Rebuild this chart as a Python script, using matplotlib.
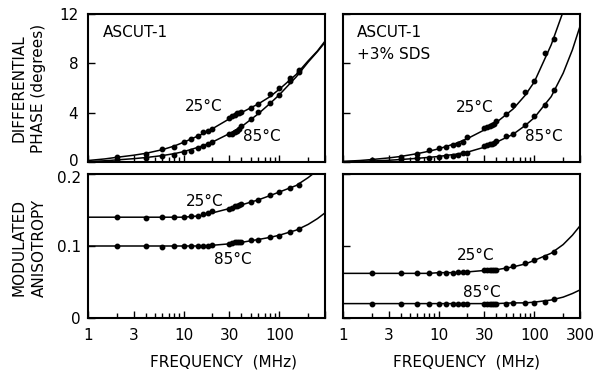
import numpy as np
import matplotlib
matplotlib.use("Agg")
import matplotlib.pyplot as plt
import matplotlib.transforms as mtransforms
from matplotlib.ticker import FixedLocator, NullFormatter, FixedFormatter

# measured frequencies (MHz)
freq = [2, 4, 6, 8, 10, 12, 14, 16, 18, 20, 30, 32, 34, 36, 38, 40, 50, 60, 80, 100, 130, 160]

# differential phase (degrees), ASCUT-1
ph_a25 = [0.38, 0.65, 1.03, 1.2, 1.65, 1.85, 2.1, 2.45, 2.55, 2.7, 3.6, 3.7, 3.85, 3.95, 4.0, 4.05,
          4.35, 4.7, 5.5, 6.0, 6.8, 7.45]
ph_a85 = [0.2, 0.35, 0.45, 0.57, 0.78, 0.92, 1.1, 1.3, 1.45, 1.6, 2.25, 2.3, 2.4, 2.5, 2.7, 2.9,
          3.45, 4.05, 4.75, 5.45, 6.6, 7.3]
# differential phase, ASCUT-1 + 3% SDS
ph_s25 = [0.16, 0.43, 0.62, 0.98, 1.17, 1.2, 1.35, 1.45, 1.65, 2.0, 2.74, 2.8, 2.9, 3.0, 3.1, 3.3,
          3.9, 4.6, 5.7, 6.6, 8.8, 10.0]
ph_s85 = [0.08, 0.22, 0.3, 0.35, 0.43, 0.45, 0.5, 0.57, 0.7, 0.76, 1.3, 1.35, 1.45, 1.5, 1.57, 1.7,
          2.1, 2.3, 3.0, 3.7, 4.6, 5.8]
# modulated anisotropy
ma_a25 = [0.14, 0.139, 0.14, 0.14, 0.14, 0.141, 0.142, 0.144, 0.146, 0.148, 0.152, 0.153, 0.155,
          0.156, 0.157, 0.158, 0.161, 0.164, 0.171, 0.175, 0.18, 0.185]
ma_a85 = [0.1, 0.1, 0.099, 0.1, 0.1, 0.1, 0.1, 0.1, 0.1, 0.101, 0.103, 0.104, 0.105, 0.105, 0.106,
          0.106, 0.108, 0.109, 0.112, 0.114, 0.119, 0.124]
ma_s25 = [0.062, 0.062, 0.062, 0.062, 0.063, 0.063, 0.063, 0.064, 0.064, 0.064, 0.066, 0.066, 0.066,
          0.066, 0.067, 0.067, 0.07, 0.072, 0.076, 0.08, 0.085, 0.092]
ma_s85 = [0.02, 0.02, 0.02, 0.02, 0.02, 0.02, 0.02, 0.02, 0.02, 0.02, 0.02, 0.02, 0.02, 0.02, 0.02,
          0.02, 0.02, 0.021, 0.021, 0.021, 0.022, 0.026]

# fitted curves
fc = [1, 1.5, 2, 3, 4, 6, 8, 10, 15, 20, 30, 40, 60, 80, 100, 150, 200, 250, 300]
fit_a25 = [0.12, 0.25, 0.38, 0.55, 0.7, 1.0, 1.3, 1.6, 2.2, 2.7, 3.5, 4.0, 4.7, 5.3, 5.9, 7.1, 8.2, 9.0, 9.8]
fit_a85 = [0.03, 0.1, 0.17, 0.27, 0.36, 0.52, 0.68, 0.84, 1.25, 1.62, 2.3, 2.85, 3.9, 4.75, 5.45, 6.9, 8.1, 8.95, 9.7]
fit_s25 = [0.05, 0.12, 0.2, 0.33, 0.45, 0.68, 0.88, 1.07, 1.5, 1.9, 2.6, 3.2, 4.3, 5.4, 6.5, 9.5, 12.2, 15.0, 18.0]
fit_s85 = [0.02, 0.05, 0.08, 0.14, 0.2, 0.3, 0.38, 0.45, 0.63, 0.8, 1.2, 1.6, 2.25, 2.95, 3.6, 5.3, 7.2, 9.1, 11.0]
fit_m_a25 = [0.14, 0.14, 0.14, 0.14, 0.14, 0.14, 0.14, 0.14, 0.142, 0.146, 0.152, 0.157, 0.164, 0.17,
             0.175, 0.184, 0.195, 0.205, 0.215]
fit_m_a85 = [0.1, 0.1, 0.1, 0.1, 0.1, 0.1, 0.1, 0.1, 0.1, 0.101, 0.103, 0.105, 0.109, 0.112, 0.115,
             0.122, 0.13, 0.138, 0.146]
fit_m_s25 = [0.062, 0.062, 0.062, 0.062, 0.062, 0.062, 0.062, 0.063, 0.063, 0.064, 0.066, 0.067,
             0.071, 0.075, 0.08, 0.09, 0.102, 0.115, 0.128]
fit_m_s85 = [0.02, 0.02, 0.02, 0.02, 0.02, 0.02, 0.02, 0.02, 0.02, 0.02, 0.02, 0.02, 0.021, 0.021,
             0.022, 0.025, 0.029, 0.034, 0.039]

xticks = [1, 3, 10, 30, 100, 300]
minor = [m * 10 ** d for d in range(3) for m in range(2, 10)]
FS = 11

fig = plt.figure(figsize=(5.97, 3.70), dpi=100)
W = 237 / 597
ax_tl = fig.add_axes([88 / 597, 208 / 370, W, 148 / 370])
ax_tr = fig.add_axes([343 / 597, 208 / 370, W, 148 / 370])
ax_bl = fig.add_axes([88 / 597, 52 / 370, W, 144 / 370])
ax_br = fig.add_axes([343 / 597, 52 / 370, W, 144 / 370])

panels = [
    (ax_tl, ph_a25, ph_a85, fit_a25, fit_a85),
    (ax_tr, ph_s25, ph_s85, fit_s25, fit_s85),
    (ax_bl, ma_a25, ma_a85, fit_m_a25, fit_m_a85),
    (ax_br, ma_s25, ma_s85, fit_m_s25, fit_m_s85),
]
for ax, d25, d85, c25, c85 in panels:
    ax.plot(fc, c25, color="black", lw=1.1)
    ax.plot(fc, c85, color="black", lw=1.1)
    ax.plot(freq, d25, "o", color="black", ms=3.2)
    ax.plot(freq, d85, "o", color="black", ms=3.2)
    ax.set_xscale("log")
    ax.set_xlim(1, 300)
    for s in ax.spines.values():
        s.set_linewidth(1.5)
    ax.xaxis.set_major_locator(FixedLocator(xticks))
    ax.xaxis.set_minor_locator(FixedLocator(minor))
    ax.xaxis.set_minor_formatter(NullFormatter())
    ax.tick_params(which="both", direction="in", top=False, right=False, labelsize=FS)
    ax.tick_params(which="major", length=5, width=1.0)
    ax.tick_params(which="minor", length=3.5, width=1.0)

for ax in (ax_tl, ax_tr):
    ax.set_ylim(0, 12)
    ax.set_yticks([0, 4, 8, 12])
    ax.xaxis.set_major_formatter(NullFormatter())
for ax in (ax_bl, ax_br):
    ax.set_ylim(0, 0.2)
    ax.set_yticks([0, 0.1, 0.2])

ax_tl.set_yticklabels(["0", "4", "8", "12"])
ax_tl.tick_params(axis="y", pad=7)
ax_bl.set_yticklabels(["0", "0.1", "0.2"])
ax_bl.tick_params(axis="y", pad=5)
ax_tr.yaxis.set_major_formatter(NullFormatter())
ax_br.yaxis.set_major_formatter(NullFormatter())

# the "0" of the top panel and the "0.2" of the bottom panel sit very close
fig.canvas.draw()
up = mtransforms.ScaledTranslation(0, 2 / 100, fig.dpi_scale_trans)
down = mtransforms.ScaledTranslation(0, -3 / 100, fig.dpi_scale_trans)
lab0 = ax_tl.get_yticklabels()[0]
lab0.set_transform(lab0.get_transform() + up)
lab2 = ax_bl.get_yticklabels()[2]
lab2.set_transform(lab2.get_transform() + down)

ax_bl.xaxis.set_major_formatter(FixedFormatter(["1", "3", "10", "30", "100", ""]))
ax_br.xaxis.set_major_formatter(FixedFormatter(["1", "3", "10", "30", "100", "300"]))
for ax in (ax_bl, ax_br):
    ax.tick_params(axis="x", which="major", pad=7)

ax_bl.text(0.57, -0.306, "FREQUENCY  (MHz)", transform=ax_bl.transAxes, ha="center", va="center", fontsize=FS)
ax_br.text(0.52, -0.306, "FREQUENCY  (MHz)", transform=ax_br.transAxes, ha="center", va="center", fontsize=FS)

fig.text(29 / 597, 1 - 88 / 370, "DIFFERENTIAL\nPHASE (degrees)", rotation=90, ha="center", va="center",
         fontsize=FS, linespacing=1.4, multialignment="center")
fig.text(29 / 597, 1 - 248 / 370, "MODULATED\nANISOTROPY", rotation=90, ha="center", va="center",
         fontsize=FS, linespacing=1.4, multialignment="center")

ax_tl.text(0.063, 0.872, "ASCUT-1", transform=ax_tl.transAxes, ha="left", va="center", fontsize=FS)
ax_tr.text(0.059, 0.872, "ASCUT-1", transform=ax_tr.transAxes, ha="left", va="center", fontsize=FS)
ax_tr.text(0.059, 0.723, "+3% SDS", transform=ax_tr.transAxes, ha="left", va="center", fontsize=FS)

labels = [
    (ax_tl, 0.49, 0.372, 0.734, 0.169),
    (ax_tr, 0.555, 0.365, 0.848, 0.169),
    (ax_bl, 0.494, 0.8125, 0.61, 0.403),
    (ax_br, 0.561, 0.4375, 0.586, 0.18),
]
for ax, x25, y25, x85, y85 in labels:
    ax.text(x25, y25, "25°C", transform=ax.transAxes, ha="center", va="center", fontsize=FS)
    ax.text(x85, y85, "85°C", transform=ax.transAxes, ha="center", va="center", fontsize=FS)

fig.savefig("out.png", dpi=100)
